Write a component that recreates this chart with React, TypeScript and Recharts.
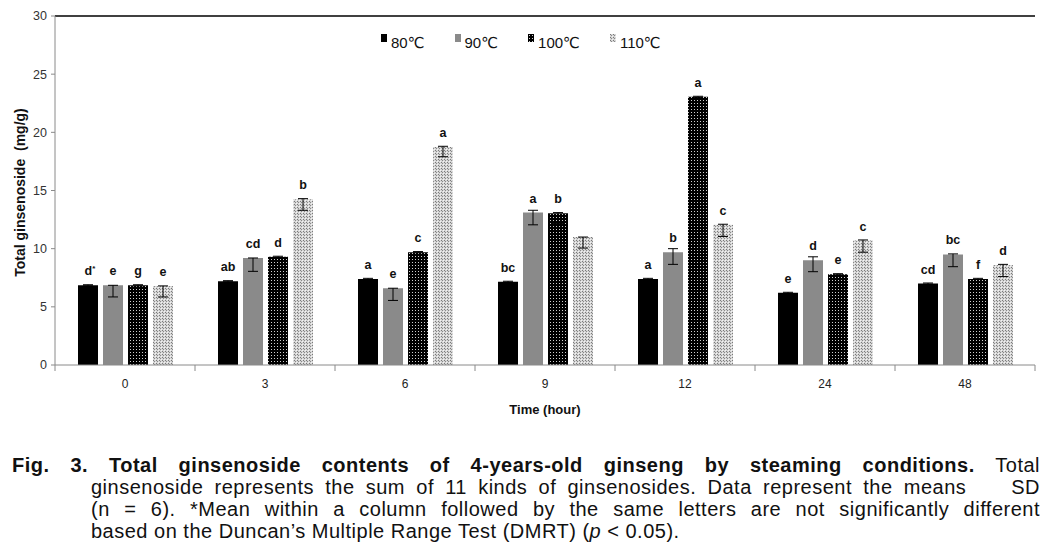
import React from 'react';
import { BarChart, Bar, XAxis, YAxis, ErrorBar, LabelList, ReferenceLine } from 'recharts';

const times = ['0', '3', '6', '9', '12', '24', '48'];
const seriesNames = ['80℃', '90℃', '100℃', '110℃'];
const yTicks = [0, 5, 10, 15, 20, 25, 30];

const v80 = [6.85, 7.2, 7.4, 7.15, 7.4, 6.2, 7.0];
const v90 = [6.85, 9.2, 6.6, 13.1, 9.7, 9.0, 9.5];
const v100 = [6.85, 9.3, 9.7, 13.05, 23.05, 7.8, 7.4];
const v110 = [6.8, 14.25, 18.75, 11.0, 12.05, 10.7, 8.6];

// [minus, plus] SD as drawn
const e80 = [[0.05, 0.05], [0.05, 0.05], [0.08, 0.05], [0.05, 0.05], [0.08, 0.05], [0.05, 0.05], [0.06, 0.05]];
const e90 = [[1.0, 0], [1.15, 0], [1.05, 0], [1.05, 0.2], [1.05, 0.3], [0.98, 0.3], [1.05, 0.05]];
const e100 = [[0.05, 0.05], [0.05, 0.05], [0.05, 0.05], [0.9, 0.05], [0.05, 0.05], [0.05, 0.05], [0.05, 0.05]];
const e110 = [[0.95, 0], [0.95, 0.05], [0.85, 0.05], [0.95, 0], [1.0, 0.05], [1.0, 0.05], [1.0, 0.05]];

const l80 = ['d*', 'ab', 'a', 'bc', 'a', 'e', 'cd'];
const l90 = ['e', 'cd', 'e', 'a', 'b', 'd', 'bc'];
const l100 = ['g', 'd', 'c', 'b', 'a', 'e', 'f'];
const l110 = ['e', 'b', 'a', '', 'c', 'c', 'd'];

const data = times.map((t, i) => ({
  time: t,
  v80: v80[i], v90: v90[i], v100: v100[i], v110: v110[i],
  e80: e80[i], e90: e90[i], e100: e100[i], e110: e110[i],
  l80: l80[i], l90: l90[i], l100: l100[i], l110: l110[i],
}));

const fills = ['#000000', '#8a8a8a', 'url(#p100)', 'url(#p110)'];
const keys = ['80', '90', '100', '110'];

const LetterLabel = (props: any) => {
  const { x, y, width, value } = props;
  if (!value) return null;
  const s = String(value);
  const star = s.endsWith('*');
  const base = star ? s.slice(0, -1) : s;
  return (
    <text
      x={x + width / 2 + (star ? 2 : 0)}
      y={y - 10}
      textAnchor="middle"
      fontFamily="'Liberation Sans', Arial, sans-serif"
      fontWeight="bold"
      fontSize={12.5}
      fill="#111"
    >
      {base}
      {star ? <tspan fontSize={8} dy={-4}>*</tspan> : null}
    </text>
  );
};

const XTick = (props: any) => {
  const { x, y, payload, index, visibleTicksCount } = props;
  const half = payload && payload.offset ? payload.offset : 70;
  const axisY = y - 8;
  const last = index === (visibleTicksCount ?? 7) - 1;
  return (
    <g>
      <line x1={x - half} x2={x - half} y1={axisY} y2={axisY + 6} stroke="#8a8a8a" />
      {last ? <line x1={x + half} x2={x + half} y1={axisY} y2={axisY + 6} stroke="#8a8a8a" /> : null}
      <text x={x} y={y + 15} textAnchor="middle" fontFamily="'Liberation Sans', Arial, sans-serif" fontSize={12} fill="#222">
        {payload.value}
      </text>
    </g>
  );
};

const YLabel = (props: any) => {
  const vb = props.viewBox || { x: 15, y: 16, width: 40, height: 349 };
  const cx = vb.x + 5;
  const cy = vb.y + vb.height / 2 + 2;
  return (
    <text
      x={cx}
      y={cy}
      transform={`rotate(-90, ${cx}, ${cy})`}
      textAnchor="middle"
      dominantBaseline="central"
      fontFamily="'Liberation Sans', Arial, sans-serif"
      fontWeight="bold"
      fontSize={14}
      fill="#111"
      style={{ whiteSpace: 'pre' }}
    >
      {'Total ginsenoside  (mg/g)'}
    </text>
  );
};

const captionFont = "'Liberation Sans', Arial, sans-serif";

export default function App() {
  return (
    <div style={{ position: 'absolute', left: 0, top: 0, width: 1056, height: 559, background: '#fff', overflow: 'hidden' }}>
      <svg width={0} height={0} style={{ position: 'absolute' }}>
        <defs>
          <pattern id="p100" width={3} height={3} patternUnits="userSpaceOnUse">
            <rect width={3} height={3} fill="#000" />
            <rect x={1} y={1} width={1} height={1} fill="#d0d0d0" />
          </pattern>
          <pattern id="p110" width={3} height={3} patternUnits="userSpaceOnUse">
            <rect width={3} height={3} fill="#d6d6d6" />
            <rect x={0} y={0} width={1} height={1} fill="#7a7a7a" />
            <rect x={1} y={1} width={1} height={1} fill="#8a8a8a" />
            <rect x={2} y={2} width={1} height={1} fill="#f2f2f2" />
          </pattern>
        </defs>
      </svg>

      <BarChart
        width={1056}
        height={430}
        data={data}
        margin={{ top: 16, right: 21, left: 15, bottom: 0 }}
        barSize={20}
        barGap={5}
      >
        <XAxis
          dataKey="time"
          height={65}
          axisLine={{ stroke: '#8a8a8a' }}
          tickLine={false}
          tick={<XTick />}
          interval={0}
          label={{
            value: 'Time (hour)',
            position: 'insideBottom',
            offset: 16,
            style: { fontFamily: "'Liberation Sans', Arial, sans-serif", fontWeight: 'bold', fontSize: 13, fill: '#111' },
          }}
        />
        <YAxis
          yAxisId="l"
          width={40}
          domain={[0, 30]}
          ticks={yTicks}
          interval={0}
          tickSize={4}
          tickMargin={4}
          axisLine={{ stroke: '#8a8a8a' }}
          tickLine={{ stroke: '#8a8a8a' }}
          tick={{ fontFamily: "'Liberation Sans', Arial, sans-serif", fontSize: 12.5, fill: '#333' }}
          label={<YLabel />}
        />
        <YAxis
          yAxisId="r"
          orientation="right"
          width={0}
          domain={[0, 30]}
          tick={false}
          tickLine={false}
          axisLine={{ stroke: '#000', strokeWidth: 1.5 }}
        />
        <ReferenceLine yAxisId="l" y={30} stroke="#000" strokeWidth={1.5} />
        {keys.map((k, i) => (
          <Bar key={k} yAxisId="l" dataKey={`v${k}`} name={seriesNames[i]} fill={fills[i]} isAnimationActive={false}>
            <ErrorBar dataKey={`e${k}`} width={5} stroke="#000" strokeWidth={1} direction="y" />
            <LabelList dataKey={`l${k}`} content={<LetterLabel />} />
          </Bar>
        ))}
      </BarChart>

      <div
        style={{
          position: 'absolute',
          left: 381,
          top: 33,
          display: 'flex',
          gap: 30,
          fontFamily: "'Liberation Sans', 'DejaVu Sans', sans-serif",
          fontSize: 15,
          lineHeight: '20px',
          color: '#111',
          whiteSpace: 'nowrap',
        }}
      >
        {seriesNames.map((n, i) => (
          <span key={n}>
            <svg width={6} height={8} style={{ display: 'inline-block', position: 'relative', top: -6, marginRight: 4 }}>
              <rect width={6} height={8} fill={fills[i]} />
            </svg>
            {n}
          </span>
        ))}
      </div>

      <div style={{ position: 'absolute', left: 0, top: 454, width: 1056, fontFamily: captionFont, fontSize: 20, lineHeight: '22px', letterSpacing: 0.5, color: '#111' }}>
        <div style={{ marginLeft: 12, width: 1028, textAlign: 'justify', textAlignLast: 'justify' }}>
          <b>Fig. 3. Total ginsenoside contents of 4-years-old ginseng by steaming conditions.</b> Total
        </div>
        <div style={{ marginLeft: 91, width: 949, textAlign: 'justify', textAlignLast: 'justify' }}>
          ginsenoside represents the sum of 11 kinds of ginsenosides. Data represent the means &nbsp;&nbsp; SD
        </div>
        <div style={{ marginLeft: 91, width: 949, textAlign: 'justify', textAlignLast: 'justify' }}>
          (n = 6). *Mean within a column followed by the same letters are not significantly different
        </div>
        <div style={{ marginLeft: 91, width: 949 }}>
          based on the Duncan’s Multiple Range Test (DMRT) (<i>p</i> &lt; 0.05).
        </div>
      </div>
    </div>
  );
}
